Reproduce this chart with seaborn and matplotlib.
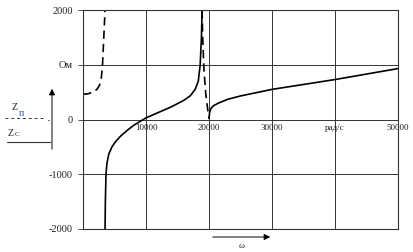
import matplotlib
matplotlib.use("Agg")
import matplotlib.pyplot as plt
import seaborn as sns
import pandas as pd

# ---- data ----
zc1_w = [3500, 3550, 3650, 3800, 4100, 4600, 5200, 6000, 7000, 8000, 9000, 10000, 12000, 14000, 16000, 17000, 17800, 18300, 18600, 18800, 18900]
zc1_z = [-2000, -1500, -1000, -800, -630, -500, -400, -300, -200, -110, -40, 30, 130, 230, 350, 430, 550, 700, 1000, 1500, 2000]
zc2_w = [20000, 20100, 20300, 20700, 21500, 23000, 25000, 30000, 35000, 40000, 45000, 50000]
zc2_z = [20, 130, 200, 250, 300, 370, 430, 550, 640, 730, 830, 930]
zp1_w = [0, 800, 1600, 2200, 2600, 2900, 3100, 3300, 3500]
zp1_z = [460, 470, 500, 550, 620, 750, 1000, 1500, 2000]
zp2_w = [18900, 19000, 19200, 19500, 19800, 20000]
zp2_z = [2000, 1500, 900, 450, 180, 20]

x_ticks = [10000, 20000, 30000, 40000, 50000]
x_labels = ["10000", "20000", "30000", "рад/с", "50000"]
y_ticks = [-2000, -1000, 0, 1000, 2000]
y_labels = ["-2000", "-1000", "0", "Ом", "2000"]

sns.set_theme(style="white")
plt.rcParams["font.family"] = ["Liberation Serif", "DejaVu Serif"]

fig = plt.figure(figsize=(4.14, 2.52), dpi=100)
ax = fig.add_axes([83 / 414, 1 - 229 / 252, (398 - 83) / 414, (229 - 10) / 252])

def draw(w, z, dashed):
    df = pd.DataFrame({"w": w, "z": z})
    line = sns.lineplot(data=df, x="w", y="z", ax=ax, color="black", lw=1.2,
                        sort=False, estimator=None)
    if dashed:
        line.lines[-1].set_dashes([5, 3])

draw(zc1_w, zc1_z, False)
draw(zc2_w, zc2_z, False)
draw(zp1_w, zp1_z, True)
draw(zp2_w, zp2_z, True)

ax.set_xlim(0, 50000)
ax.set_ylim(-2000, 2000)
ax.set_xticks([0] + x_ticks)
ax.set_xticklabels([])
ax.set_yticks(y_ticks)
ax.set_yticklabels(y_labels, fontsize=7.5, color="#222222")
ax.tick_params(axis="y", length=3.6, width=0.6, pad=3.6, color="#333333", left=True)
ax.tick_params(axis="x", length=0)
ax.grid(True, color="#333333", lw=0.7)
ax.set_xlabel("")
ax.set_ylabel("")
for s in ax.spines.values():
    s.set_color("#333333")
    s.set_linewidth(0.8)

for xt, lab in zip(x_ticks, x_labels):
    ax.text(xt, -90, lab, ha="center", va="top", fontsize=6.5, color="#222222")

# left legend
fig.text(12 / 414, 1 - 108 / 252, "Z", fontsize=7, ha="left", va="center", color="#222222")
fig.text(19 / 414, 1 - 113 / 252, "п", fontsize=7, ha="left", va="center", color="#2255aa")
fig.add_artist(plt.Line2D([5 / 414, 46 / 414], [1 - 118 / 252] * 2, color="#333333", lw=0.7, dashes=[3, 3]))
fig.add_artist(plt.Line2D([48 / 414, 49 / 414], [1 - 120 / 252] * 2, color="#555555", lw=0.7))
fig.text(8 / 414, 1 - 133 / 252, "Z", fontsize=7, ha="left", va="center", color="#222222")
fig.text(15 / 414, 1 - 134.5 / 252, "C", fontsize=5, ha="left", va="center", color="#222222")
fig.add_artist(plt.Line2D([7 / 414, 50 / 414], [1 - 142 / 252] * 2, color="#333333", lw=0.8))
fig.add_artist(matplotlib.patches.FancyArrowPatch((52 / 414, 1 - 152 / 252), (52 / 414, 1 - 86 / 252),
               transform=fig.transFigure, arrowstyle="-|>", mutation_scale=9, lw=0.7, color="black"))
# omega arrow
fig.add_artist(matplotlib.patches.FancyArrowPatch((210 / 414, 1 - 237 / 252), (273 / 414, 1 - 237 / 252),
               transform=fig.transFigure, arrowstyle="-|>", mutation_scale=9, lw=0.7, color="black"))
fig.text(242 / 414, 1 - 246 / 252, "ω", fontsize=6.5, ha="center", va="center", color="#222222")

fig.savefig("out.png", dpi=100)
